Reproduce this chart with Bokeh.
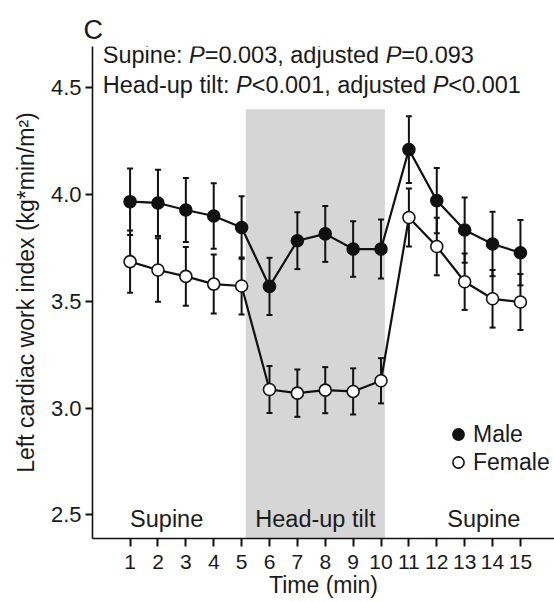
from bokeh.plotting import figure
from bokeh.models import (FixedTicker, Label, BoxAnnotation, Legend, LegendItem,
                          ColumnDataSource, Range1d)
from bokeh.embed import file_html
from bokeh.resources import INLINE

# ---------------- data ----------------
time_min = list(range(1, 16))
male_mean = [3.967, 3.961, 3.928, 3.900, 3.846, 3.570, 3.784, 3.816, 3.745, 3.745,
             4.211, 3.972, 3.834, 3.769, 3.728]
male_err = [0.156, 0.155, 0.150, 0.153, 0.146, 0.134, 0.133, 0.131, 0.130, 0.138,
            0.156, 0.153, 0.153, 0.151, 0.153]
female_mean = [3.686, 3.647, 3.617, 3.581, 3.572, 3.087, 3.070, 3.084, 3.078, 3.128,
               3.893, 3.757, 3.592, 3.512, 3.497]
female_err = [0.146, 0.149, 0.138, 0.138, 0.134, 0.110, 0.111, 0.108, 0.108, 0.106,
              0.136, 0.135, 0.132, 0.135, 0.131]
x_ticks = list(range(1, 16))
y_ticks = [2.5, 3.0, 3.5, 4.0, 4.5]
y_tick_labels = ["2.5", "3.0", "3.5", "4.0", "4.5"]
series_names = ["Male", "Female"]
phase_labels = ["Supine", "Head-up tilt", "Supine"]
tilt_window = [5.15, 10.14]
tilt_top = 4.40
stats_lines = [
    [("Supine: ", "normal"), ("P", "italic"), ("=0.003, adjusted ", "normal"),
     ("P", "italic"), ("=0.093", "normal")],
    [("Head-up tilt: ", "normal"), ("P", "italic"), ("<0.001, adjusted ", "normal"),
     ("P", "italic"), ("<0.001", "normal")],
]

FONT = "Liberation Sans"
TXT = "#1a1a1a"

# Liberation Sans advance widths (per 1000 em) for positioning mixed-style runs
ADV = {' ': 278, 'S': 667, 'u': 556, 'p': 556, 'i': 222, 'n': 556, 'e': 556, ':': 278,
       'P': 667, '=': 584, '<': 584, '.': 278, ',': 278, 'a': 556, 'd': 556, 'j': 222,
       's': 500, 't': 278, 'H': 722, '-': 333, 'l': 222}


def text_width(s, size):
    return sum(ADV.get(c, 556) for c in s) * size / 1000.0


p = figure(width=554, height=602,
           x_range=Range1d(-0.348, 16.222), y_range=Range1d(2.389, 4.694),
           output_backend="svg", toolbar_location=None,
           min_border_left=92, min_border_right=0, min_border_top=46, min_border_bottom=64)
p.outline_line_color = None
p.xgrid.visible = False
p.ygrid.visible = False
p.background_fill_color = "white"
p.border_fill_color = "white"

# panel letter as title
p.title.text = "C"
p.title.text_font = FONT
p.title.text_font_size = "27px"
p.title.text_font_style = "normal"
p.title.text_color = TXT
p.title.align = "left"
p.title.offset = -9
p.title.standoff = 3

# shaded head-up tilt window
p.add_layout(BoxAnnotation(left=tilt_window[0], right=tilt_window[1], top=tilt_top,
                           fill_color="#d6d6d6", fill_alpha=1.0, line_color=None,
                           level="underlay"))

# axes
for ax in (p.xaxis[0], p.yaxis[0]):
    ax.axis_line_width = 1.6
    ax.axis_line_color = "#111111"
    ax.major_tick_line_width = 2
    ax.major_tick_line_color = "#111111"
    ax.major_tick_in = 0
    ax.minor_tick_line_color = None
    ax.major_label_text_font = FONT
    ax.major_label_text_color = TXT
    ax.axis_label_text_font = FONT
    ax.axis_label_text_color = TXT
    ax.axis_label_text_font_style = "normal"

p.xaxis.ticker = FixedTicker(ticks=x_ticks)
p.xaxis.major_tick_out = 8
p.xaxis.major_label_standoff = 8
p.xaxis.major_label_text_font_size = "21px"
p.xaxis.axis_label = "Time (min)"
p.xaxis.axis_label_text_font_size = "23px"
p.xaxis.axis_label_standoff = 0

p.yaxis.ticker = FixedTicker(ticks=y_ticks)
p.yaxis.major_label_overrides = {t: l for t, l in zip(y_ticks, y_tick_labels)}
p.yaxis.major_tick_out = 7
p.yaxis.major_label_standoff = 4
p.yaxis.major_label_text_font_size = "22px"
p.yaxis.axis_label = "Left cardiac work index (kg*min/m\u00b2)"
p.yaxis.axis_label_text_font_size = "23px"
p.yaxis.axis_label_standoff = 9

# sources
def make_src(mean, err):
    return ColumnDataSource(dict(
        t=time_min, m=mean,
        lo=[m - e for m, e in zip(mean, err)],
        hi=[m + e for m, e in zip(mean, err)],
    ))

src_m = make_src(male_mean, male_err)
src_f = make_src(female_mean, female_err)

# error bars
for src in (src_m, src_f):
    p.segment(x0="t", y0="lo", x1="t", y1="hi", source=src, line_color="#111111", line_width=2)
    p.scatter(x="t", y="lo", source=src, marker="dash", size=6, line_color="#111111", line_width=2)
    p.scatter(x="t", y="hi", source=src, marker="dash", size=6, line_color="#111111", line_width=2)

# connecting lines
p.line(x="t", y="m", source=src_m, line_color="#111111", line_width=2.2)
p.line(x="t", y="m", source=src_f, line_color="#111111", line_width=2.2)

# markers
r_m = p.scatter(x="t", y="m", source=src_m, marker="circle", size=12,
                fill_color="#111111", line_color="#111111", line_width=1.6)
r_f = p.scatter(x="t", y="m", source=src_f, marker="circle", size=12,
                fill_color="white", line_color="#111111", line_width=1.6)

legend = Legend(items=[LegendItem(label=series_names[0], renderers=[r_m]),
                       LegendItem(label=series_names[1], renderers=[r_f])],
                location=(351, 62), orientation="vertical",
                glyph_width=30, glyph_height=28, label_standoff=0, spacing=0,
                padding=0, margin=0, label_height=28,
                label_text_font=FONT, label_text_font_size="23px", label_text_color=TXT,
                border_line_color=None, background_fill_alpha=0)
p.add_layout(legend)

# statistics text with italic P
stat_size = 23.5
stat_y = [4.654, 4.515]
for line, yy in zip(stats_lines, stat_y):
    off = 0.0
    for seg, style in line:
        p.add_layout(Label(x=0.021, y=yy, x_offset=off, text=seg, text_font=FONT,
                           text_font_size=f"{stat_size}px", text_font_style=style,
                           text_color=TXT, text_align="left", text_baseline="alphabetic"))
        off += text_width(seg, stat_size)

# phase labels
phase_x = [x_ticks[0], (tilt_window[0] + tilt_window[1]) / 2, x_ticks[-1]]
phase_align = ["left", "center", "right"]
for lab, xx, al in zip(phase_labels, phase_x, phase_align):
    p.add_layout(Label(x=xx, y=2.48, text=lab, text_font=FONT, text_font_size="23.5px",
                       text_color=TXT, text_align=al, text_baseline="alphabetic"))

open("out.html", "w").write(file_html(p, INLINE))
